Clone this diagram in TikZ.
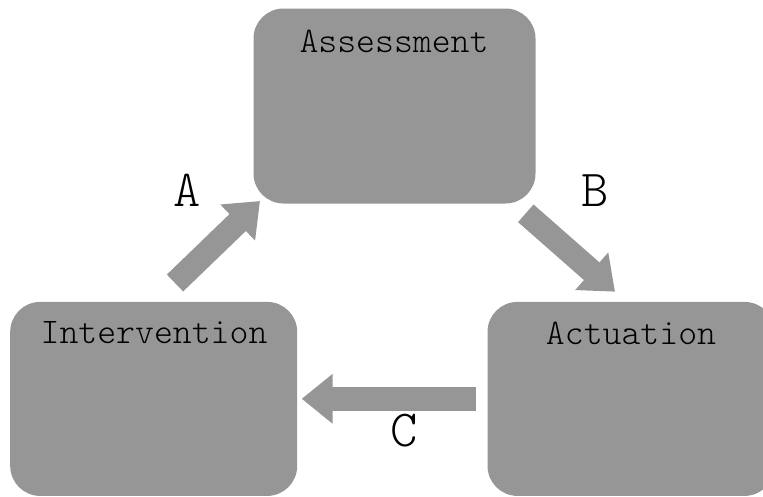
\documentclass[tikz,border=0pt]{standalone}
\usetikzlibrary{arrows.meta}
\definecolor{boxgray}{RGB}{150,150,150}
\tikzset{
  box/.style={fill=boxgray, draw=none, rounded corners=30pt, anchor=north west, inner sep=0pt},
  boxtext/.style={font=\fontsize{36}{36}\fontfamily{lmtt}\fontseries{l}\selectfont, text=black, inner sep=0pt, anchor=center},
  steplabel/.style={font=\fontsize{52}{52}\fontfamily{lmtt}\fontseries{l}\selectfont, text=black, inner sep=0pt, anchor=center},
  bigarrow/.style={draw=boxgray, line width=23.5pt, line cap=butt,
    -{Triangle[length=31pt,width=48pt]}}
}
\begin{document}
\begin{tikzpicture}[x=1pt,y=-1pt]
\useasboundingbox (0,0) rectangle (763,496);
\begin{scope}
\clip (0,0) rectangle (763,496);
\node[box, minimum width=282pt, minimum height=195pt] (assess) at (253.3,8.3) {};
\node[box, minimum width=287pt, minimum height=194pt] (interv) at (10,301.7) {};
\node[box, minimum width=287pt, minimum height=194pt] (actu) at (487.3,301.7) {};
\end{scope}
\node[boxtext] (assessT) at (394,41) {Assessment};
\node[boxtext] (intervT) at (154,333) {Intervention};
\node[boxtext] (actuT) at (631,333) {Actuation};

\coordinate (aS) at (175,283);
\coordinate (aE) at (260,201);
\coordinate (bS) at (525.8,213.3);
\coordinate (bE) at (615,291.7);
\coordinate (cS) at (475.7,398.8);
\coordinate (cE) at (301.7,398.8);
\draw[bigarrow] (aS) -- (aE);
\draw[bigarrow] (bS) -- (bE);
\draw[bigarrow] (cS) -- (cE);

\node[steplabel] (labA) at (187.5,190.5) {A};
\node[steplabel] (labB) at (595,190.5) {B};
\node[steplabel] (labC) at (404.2,430.5) {C};
\end{tikzpicture}
\end{document}
